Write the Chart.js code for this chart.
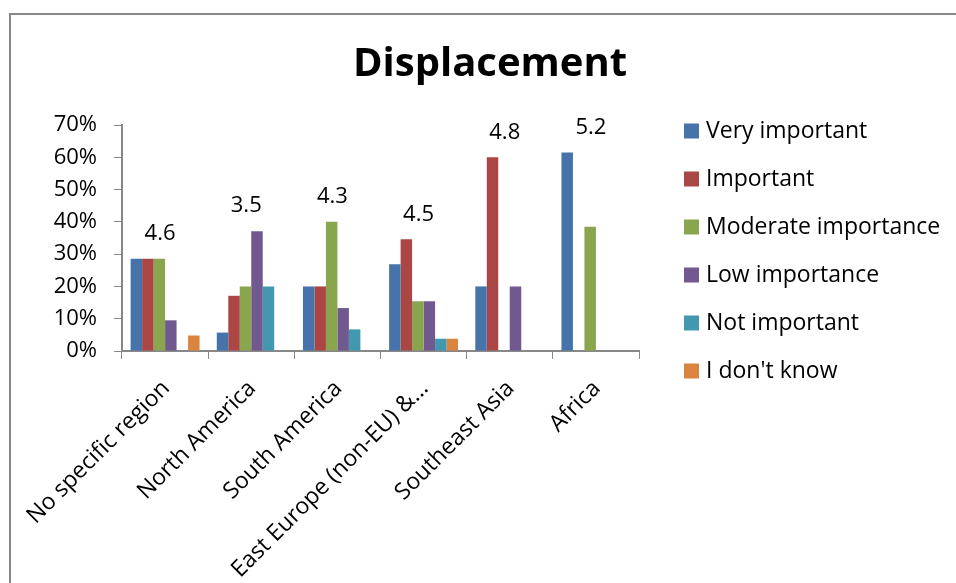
<!DOCTYPE html>
<html lang="en">
<head>
    <meta charset="UTF-8">
    <title>Displacement</title>
    <script src="https://cdn.jsdelivr.net/npm/chart.js"></script>
    <style>
        html, body { margin: 0; padding: 0; background: #fff; }
        #wrap { width: 956px; height: 583px; position: relative; }
    </style>
</head>
<body>
    <div id="wrap"><canvas id="chart" width="956" height="583"></canvas></div>
    <script>
        var categories = ['No specific region', 'North America', 'South America', 'East Europe (non-EU) &...', 'Southeast Asia', 'Africa'];
        var seriesNames = ['Very important', 'Important', 'Moderate importance', 'Low importance', 'Not important', "I don't know"];
        var veryImportant = [28.6, 5.7, 20, 26.9, 20, 61.5];
        var important = [28.6, 17.1, 20, 34.6, 60, 0];
        var moderate = [28.6, 20, 40, 15.4, 0, 38.5];
        var lowImportance = [9.5, 37.1, 13.3, 15.4, 20, 0];
        var notImportant = [0, 20, 6.7, 3.8, 0, 0];
        var dontKnow = [4.8, 0, 0, 3.8, 0, 0];
        var scores = [4.6, 3.5, 4.3, 4.5, 4.8, 5.2];
        var yTicks = [0, 10, 20, 30, 40, 50, 60, 70];

        var colors = ['#4674AA', '#AA4643', '#89A54E', '#71588F', '#4198AF', '#DB843D'];
        var FONT = 'Open Sans';
        var values = [veryImportant, important, moderate, lowImportance, notImportant, dontKnow];

        // frame, title, score labels and legend drawn on the canvas
        var extras = {
            id: 'extras',
            beforeDraw: function(chart) {
                var c = chart.ctx;
                c.save();
                c.strokeStyle = '#888';
                c.lineWidth = 2;
                c.beginPath();
                c.moveTo(10, 600);
                c.lineTo(10, 14);
                c.lineTo(980, 14);
                c.stroke();
                c.restore();
            },
            afterDraw: function(chart) {
                var c = chart.ctx;
                c.save();
                c.fillStyle = '#000';
                c.textAlign = 'center';
                c.textBaseline = 'middle';
                c.font = 'bold 40px ' + FONT;
                c.fillText('Displacement', 490, 65);

                // average scores above each group
                c.font = '22px ' + FONT;
                var yScale = chart.scales.y;
                var xScale = chart.scales.x;
                scores.forEach(function(s, i) {
                    var top = yScale.getPixelForValue(0);
                    chart.data.datasets.forEach(function(ds, d) {
                        var bar = chart.getDatasetMeta(d).data[i];
                        if (bar && bar.y < top) top = bar.y;
                    });
                    c.fillText(s.toFixed(1), xScale.getPixelForValue(i) - 5, top - 25);
                });

                // legend
                c.font = '23px ' + FONT;
                c.textAlign = 'left';
                chart.data.datasets.forEach(function(ds, d) {
                    var cy = 131 + 48 * d;
                    c.fillStyle = ds.backgroundColor;
                    c.fillRect(684, cy - 7.5, 15, 15);
                    c.fillStyle = '#000';
                    c.fillText(ds.label, 706, cy);
                });
                c.restore();
            }
        };

        var ctx = document.getElementById('chart').getContext('2d');
        var chart = new Chart(ctx, {
            type: 'bar',
            data: {
                labels: categories,
                datasets: seriesNames.map(function(name, i) {
                    return {
                        label: name,
                        data: values[i],
                        backgroundColor: colors[i],
                        borderWidth: 0,
                        categoryPercentage: 0.8,
                        barPercentage: 1
                    };
                })
            },
            options: {
                responsive: false,
                animation: false,
                devicePixelRatio: 1,
                layout: { padding: { left: 0, top: 125, right: 317, bottom: 0 } },
                plugins: {
                    legend: { display: false },
                    title: { display: false },
                    tooltip: { enabled: false }
                },
                scales: {
                    x: {
                        grid: { display: true, drawOnChartArea: false, drawTicks: true, tickLength: 8, color: '#888', offset: true },
                        border: { color: '#888', width: 2 },
                        ticks: {
                            color: '#000',
                            font: { family: FONT, size: 23 },
                            maxRotation: 45,
                            minRotation: 45,
                            autoSkip: false,
                            padding: 16,
                            labelOffset: 1
                        },
                        afterFit: function(scale) { scale.height = 232; }
                    },
                    y: {
                        min: 0,
                        max: 70,
                        afterBuildTicks: function(scale) {
                            scale.ticks = yTicks.map(function(v) { return { value: v }; });
                        },
                        grid: { display: true, drawOnChartArea: false, drawTicks: true, tickLength: 8, color: '#888' },
                        border: { color: '#888', width: 2 },
                        ticks: {
                            color: '#000',
                            font: { family: FONT, size: 22 },
                            padding: 17,
                            callback: function(v) { return v + '%'; }
                        },
                        afterFit: function(scale) { scale.width = 122; }
                    }
                }
            },
            plugins: [extras]
        });
    </script>
</body>
</html>
